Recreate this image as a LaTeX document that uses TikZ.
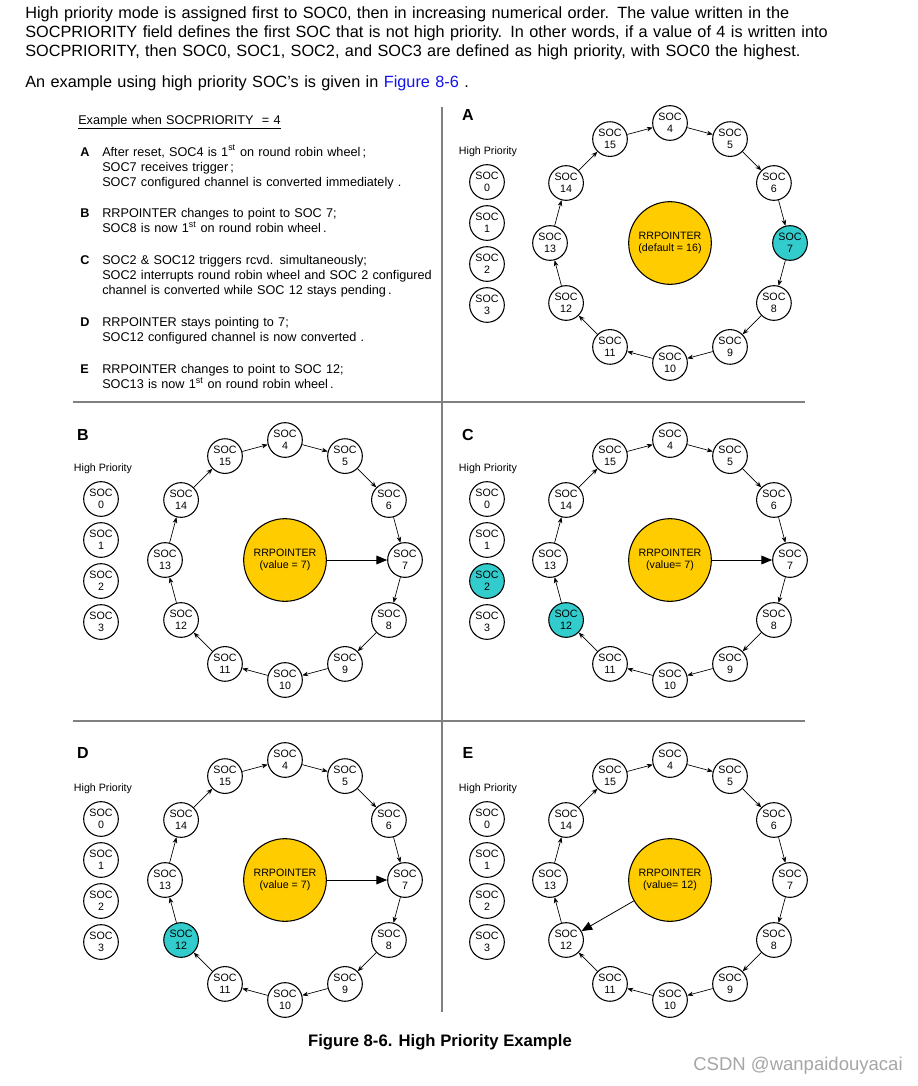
\documentclass[tikz,border=0pt]{standalone}
\usepackage{fontspec}
\setmainfont{Liberation Sans}
\usetikzlibrary{arrows.meta, positioning}
\definecolor{socteal}{RGB}{51,204,204}
\definecolor{ptryellow}{RGB}{255,204,0}
\definecolor{linkblue}{RGB}{20,20,235}

\begin{document}
\begin{tikzpicture}[
        x=0.75pt, y=-0.75pt, % 1 unit = 1 pixel of the page
        soc/.style={circle, draw, line width=0.8pt, fill=white, minimum size=26pt, inner sep=0pt, align=center, font=\fontsize{8}{9}\selectfont},
        ptr/.style={circle, draw, line width=0.8pt, fill=ptryellow, minimum size=62pt, inner sep=0pt, align=center, font=\fontsize{8}{9.5}\selectfont},
        wheelarrow/.style={-{Stealth[length=4.5pt, width=3.5pt]}, line width=0.5pt},
        ptrarrow/.style={-{Triangle[length=8pt, width=6.5pt]}, line width=0.6pt},
        paneltag/.style={font=\bfseries\fontsize{12}{12}\selectfont, inner sep=0pt},
        hplabel/.style={font=\fontsize{8}{8}\selectfont, inner sep=0pt},
        note/.style={font=\fontsize{9.5}{11.6}\selectfont, align=left, inner sep=0pt, anchor=base west, text width=250pt},
        item/.style={font=\bfseries\fontsize{9.5}{11.6}\selectfont, inner sep=0pt, anchor=base west},
        bodytext/.style={font=\fontsize{12.2}{14.25}\selectfont, align=left, inner sep=0pt, anchor=base west, text width=660pt},
        divider/.style={draw=gray, line width=1.5pt}
    ]
    \fill[white] (0,0) rectangle (918,1086);
    \useasboundingbox (0,0) rectangle (918,1086);

    % --- TEXT ABOVE ---
    \node[bodytext] (para1) at (25,18.5) {High priority mode is assigned first to SOC0, then in increasing numerical order. The value written in the\\SOCPRIORITY field defines the first SOC that is not high priority. In other words, if a value of 4 is written into\\SOCPRIORITY, then SOC0, SOC1, SOC2, and SOC3 are defined as high priority, with SOC0 the highest.};
    \node[bodytext] (para2) at (25,87.5) {An example using high priority SOC's is given in \textcolor{linkblue}{Figure 8-6} .};

    % Separator lines between the panels
    \draw[divider] (442,107) -- (442,1012);
    \draw[divider] (73,402) -- (805,402);
    \draw[divider] (73,721) -- (805,721);

    % --- STEPS ---
    \node[note] (head) at (78,124) {\underline{Example when SOCPRIORITY\ \ = 4}};
    \node[item] (stepA) at (80,156) {A};
    \node[note] (txtA) at (102,156) {After reset, SOC4 is 1\textsuperscript{st} on round robin wheel\,;\\SOC7 receives trigger\,;\\SOC7 configured channel is converted immediately\ .};
    \node[item] (stepB) at (80,217) {B};
    \node[note] (txtB) at (102,217) {RRPOINTER changes to point to SOC 7;\\SOC8 is now 1\textsuperscript{st} on round robin wheel\,.};
    \node[item] (stepC) at (80,264) {C};
    \node[note] (txtC) at (102,264) {SOC2 \& SOC12 triggers rcvd. simultaneously;\\SOC2 interrupts round robin wheel and SOC 2 configured\\channel is converted while SOC 12 stays pending\,.};
    \node[item] (stepD) at (80,326) {D};
    \node[note] (txtD) at (102,326) {RRPOINTER stays pointing to\ 7;\\SOC12 configured channel is now converted\ .};
    \node[item] (stepE) at (80,373) {E};
    \node[note] (txtE) at (102,373) {RRPOINTER changes to point to SOC 12;\\SOC13 is now 1\textsuperscript{st} on round robin wheel\,.};

    % --- PANEL A ---
    \begin{scope}[shift={(670,243)}, hl7/.style={fill=socteal}]
        \node[paneltag] (A-tag) at (-202,-128) {A};
        \node[hplabel] (A-hp) at (-182,-91) {High Priority};
        \foreach \i in {0,...,3}
            \node[soc, hl\i/.try] (A-soc\i) at (-183,-61+41*\i) {SOC\\\i};
        \foreach \i in {4,...,15}
            \node[soc, hl\i/.try] (A-soc\i) at ({-210+30*\i}:120) {SOC\\\i};
        \node[ptr] (A-ptr) at (0,0) {RRPOINTER\\(default = 16)};
        \foreach \i [evaluate=\i as \j using {int(mod(\i-3,12)+4)}] in {4,...,15}
            \draw[wheelarrow] (A-soc\i) -- (A-soc\j);
    \end{scope}

    % --- PANEL B ---
    \begin{scope}[shift={(285,560)}]
        \node[paneltag] (B-tag) at (-202,-125) {B};
        \node[hplabel] (B-hp) at (-182,-91) {High Priority};
        \foreach \i in {0,...,3}
            \node[soc, hl\i/.try] (B-soc\i) at (-184,-61+41*\i) {SOC\\\i};
        \foreach \i in {4,...,15}
            \node[soc, hl\i/.try] (B-soc\i) at ({-210+30*\i}:120) {SOC\\\i};
        \node[ptr] (B-ptr) at (0,0) {RRPOINTER\\(value = 7)};
        \foreach \i [evaluate=\i as \j using {int(mod(\i-3,12)+4)}] in {4,...,15}
            \draw[wheelarrow] (B-soc\i) -- (B-soc\j);
        \draw[ptrarrow] (B-ptr) -- (B-soc7);
    \end{scope}

    % --- PANEL C ---
    \begin{scope}[shift={(670,560)}, hl2/.style={fill=socteal}, hl12/.style={fill=socteal}]
        \node[paneltag] (C-tag) at (-202,-125) {C};
        \node[hplabel] (C-hp) at (-182,-91) {High Priority};
        \foreach \i in {0,...,3}
            \node[soc, hl\i/.try] (C-soc\i) at (-183,-61+41*\i) {SOC\\\i};
        \foreach \i in {4,...,15}
            \node[soc, hl\i/.try] (C-soc\i) at ({-210+30*\i}:120) {SOC\\\i};
        \node[ptr] (C-ptr) at (0,0) {RRPOINTER\\(value= 7)};
        \foreach \i [evaluate=\i as \j using {int(mod(\i-3,12)+4)}] in {4,...,15}
            \draw[wheelarrow] (C-soc\i) -- (C-soc\j);
        \draw[ptrarrow] (C-ptr) -- (C-soc7);
    \end{scope}

    % --- PANEL D ---
    \begin{scope}[shift={(285,880)}, hl12/.style={fill=socteal}]
        \node[paneltag] (D-tag) at (-202,-127) {D};
        \node[hplabel] (D-hp) at (-182,-91) {High Priority};
        \foreach \i in {0,...,3}
            \node[soc, hl\i/.try] (D-soc\i) at (-184,-61+41*\i) {SOC\\\i};
        \foreach \i in {4,...,15}
            \node[soc, hl\i/.try] (D-soc\i) at ({-210+30*\i}:120) {SOC\\\i};
        \node[ptr] (D-ptr) at (0,0) {RRPOINTER\\(value = 7)};
        \foreach \i [evaluate=\i as \j using {int(mod(\i-3,12)+4)}] in {4,...,15}
            \draw[wheelarrow] (D-soc\i) -- (D-soc\j);
        \draw[ptrarrow] (D-ptr) -- (D-soc7);
    \end{scope}

    % --- PANEL E ---
    \begin{scope}[shift={(670,880)}]
        \node[paneltag] (E-tag) at (-202,-127) {E};
        \node[hplabel] (E-hp) at (-182,-91) {High Priority};
        \foreach \i in {0,...,3}
            \node[soc, hl\i/.try] (E-soc\i) at (-183,-61+41*\i) {SOC\\\i};
        \foreach \i in {4,...,15}
            \node[soc, hl\i/.try] (E-soc\i) at ({-210+30*\i}:120) {SOC\\\i};
        \node[ptr] (E-ptr) at (0,0) {RRPOINTER\\(value= 12)};
        \foreach \i [evaluate=\i as \j using {int(mod(\i-3,12)+4)}] in {4,...,15}
            \draw[wheelarrow] (E-soc\i) -- (E-soc\j);
        \draw[ptrarrow] (E-ptr) -- (E-soc12);
    \end{scope}

    % Caption
    \node[font=\bfseries\fontsize{12.5}{14}\selectfont, inner sep=0pt] (caption) at (440,1042) {Figure 8-6. High Priority Example};
    \node[font=\fontsize{13.9}{15}\selectfont, text=gray!70, inner sep=0pt] (mark) at (798,1066) {CSDN @wanpaidouyacai};
\end{tikzpicture}
\end{document}
